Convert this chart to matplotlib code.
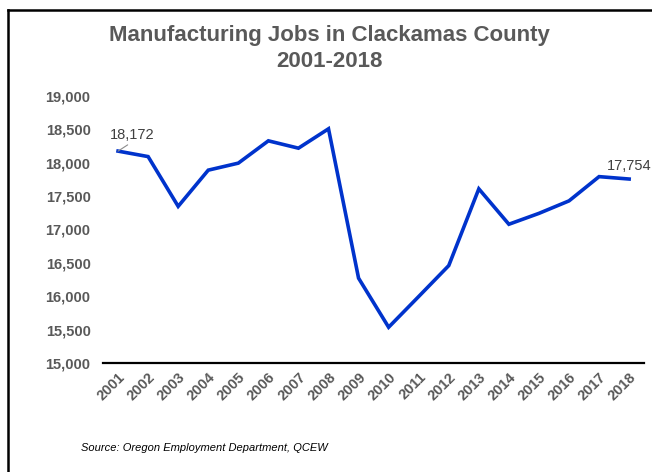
import matplotlib
matplotlib.use("Agg")
import matplotlib.pyplot as plt
from matplotlib.lines import Line2D
from matplotlib.ticker import FuncFormatter

plt.rcParams['font.family'] = ['Liberation Sans', 'DejaVu Sans']

years = ['2001', '2002', '2003', '2004', '2005', '2006', '2007', '2008', '2009',
         '2010', '2011', '2012', '2013', '2014', '2015', '2016', '2017', '2018']
jobs = [18172, 18090, 17345, 17887, 17992, 18326, 18216, 18506, 16270,
        15535, 15995, 16458, 17607, 17077, 17240, 17427, 17790, 17754]

grey = '#595959'

fig = plt.figure(figsize=(6.52, 4.72), dpi=100)
ax = fig.add_axes([0.158, 0.231, 0.83, 0.566])

x = list(range(len(years)))
ax.plot(x, jobs, color='#0033CC', linewidth=2.6, solid_joinstyle='miter')

ax.set_xlim(-0.5, len(years) - 0.5)
ax.set_ylim(15000, 19000)
ax.set_yticks(range(15000, 19001, 500))
ax.yaxis.set_major_formatter(FuncFormatter(lambda v, p: f'{int(v):,}'))
ax.set_xticks(x)
ax.set_xticklabels(years, rotation=45, ha='right', va='top', rotation_mode='anchor')

for s in ['top', 'right', 'left']:
    ax.spines[s].set_visible(False)
ax.spines['bottom'].set_linewidth(1.6)
ax.spines['bottom'].set_color('black')
ax.tick_params(axis='both', length=0)
ax.tick_params(axis='y', pad=9, labelsize=10.5, labelcolor=grey)
ax.tick_params(axis='x', pad=5, labelsize=10.5, labelcolor=grey)
for lab in ax.get_xticklabels() + ax.get_yticklabels():
    lab.set_fontweight('bold')

# end point labels
ax.annotate(f'{jobs[0]:,}', xy=(0, jobs[0]), xytext=(10, 6.5),
            textcoords='offset points', fontsize=10.5, color='#404040',
            ha='center', va='bottom',
            arrowprops=dict(arrowstyle='-', color='#8c8c8c', lw=0.8,
                            relpos=(0.5, 0), shrinkA=0, shrinkB=0))
ax.annotate(f'{jobs[-1]:,}', xy=(len(years) - 1, jobs[-1]), xytext=(0, 9.5),
            textcoords='offset points', fontsize=10.5, color='#404040',
            ha='center', va='center')

fig.text(0.506, 0.948, 'Manufacturing Jobs in Clackamas County\n2001-2018',
         ha='center', va='top', fontsize=16, fontweight='bold', color=grey,
         linespacing=1.35)
fig.text(0.124, 0.051, 'Source: Oregon Employment Department, QCEW',
         fontsize=8, style='italic', color='black', ha='left', va='center')

# chart border (only top and left edges visible in the crop)
top = 1 - 10 / 472
left = 8 / 652
fig.lines.append(Line2D([left, 1.0], [top, top], transform=fig.transFigure,
                        color='black', linewidth=1.8))
fig.lines.append(Line2D([left, left], [0.0, top], transform=fig.transFigure,
                        color='black', linewidth=1.8))

fig.savefig('out.png', dpi=100)
